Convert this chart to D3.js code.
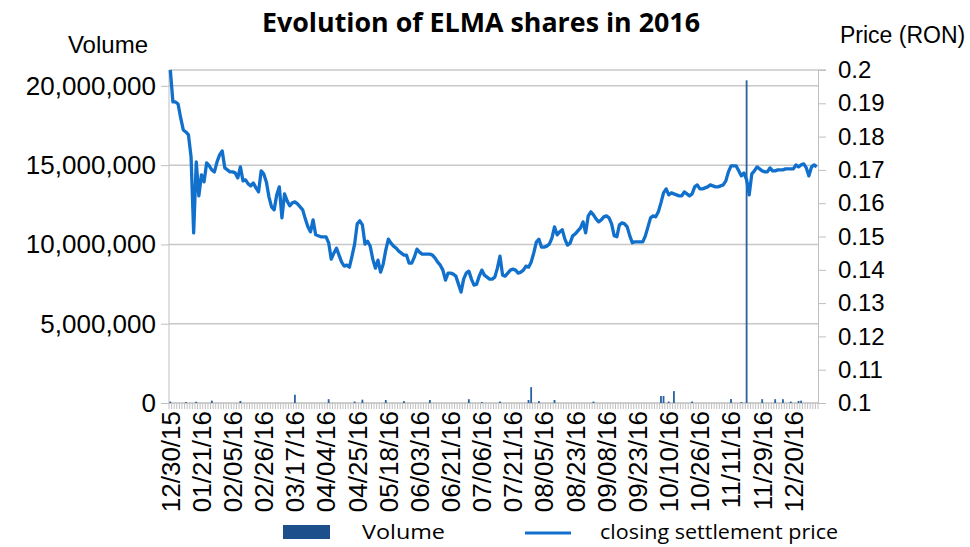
<!DOCTYPE html>
<html>
<head>
    <title>Evolution of ELMA shares in 2016</title>
    <script src="https://d3js.org/d3.v7.min.js"></script>
    <style>
        body { margin: 0; background: #fff; }
        .axis text { font-family: "Liberation Sans", Arial, sans-serif; fill: #000; }
        .axis path, .axis line { stroke: #bfbfbf; }
    </style>
</head>
<body>
    <svg id="chart" width="970" height="547"></svg>
    <script>
        // closing settlement price, one value per trading day
        var price = [
            0.2000, 0.1904, 0.1904, 0.1898, 0.1856, 0.1820, 0.1814, 0.1805, 0.1739, 0.1511,
            0.1724, 0.1622, 0.1685, 0.1664, 0.1721, 0.1712, 0.1700, 0.1694, 0.1724, 0.1745,
            0.1757, 0.1706, 0.1700, 0.1694, 0.1694, 0.1691, 0.1676, 0.1709, 0.1667, 0.1670,
            0.1658, 0.1652, 0.1661, 0.1646, 0.1634, 0.1697, 0.1688, 0.1664, 0.1619, 0.1589,
            0.1580, 0.1625, 0.1649, 0.1556, 0.1628, 0.1607, 0.1592, 0.1601, 0.1604, 0.1598,
            0.1589, 0.1580, 0.1553, 0.1529, 0.1514, 0.1550, 0.1505, 0.1502, 0.1499, 0.1499,
            0.1499, 0.1481, 0.1432, 0.1450, 0.1465, 0.1444, 0.1423, 0.1411, 0.1414, 0.1408,
            0.1441, 0.1477, 0.1538, 0.1547, 0.1535, 0.1477, 0.1486, 0.1471, 0.1432, 0.1405,
            0.1429, 0.1393, 0.1417, 0.1459, 0.1492, 0.1480, 0.1471, 0.1465, 0.1456, 0.1450,
            0.1444, 0.1444, 0.1420, 0.1420, 0.1438, 0.1462, 0.1453, 0.1447, 0.1447, 0.1447,
            0.1447, 0.1444, 0.1435, 0.1423, 0.1414, 0.1399, 0.1369, 0.1390, 0.1390, 0.1387,
            0.1381, 0.1357, 0.1333, 0.1372, 0.1390, 0.1396, 0.1372, 0.1354, 0.1357, 0.1381,
            0.1399, 0.1384, 0.1378, 0.1372, 0.1372, 0.1378, 0.1405, 0.1441, 0.1384, 0.1381,
            0.1390, 0.1399, 0.1402, 0.1399, 0.1390, 0.1393, 0.1399, 0.1411, 0.1408, 0.1423,
            0.1450, 0.1483, 0.1492, 0.1468, 0.1468, 0.1471, 0.1477, 0.1495, 0.1529, 0.1505,
            0.1514, 0.1520, 0.1492, 0.1474, 0.1480, 0.1502, 0.1508, 0.1517, 0.1526, 0.1544,
            0.1511, 0.1562, 0.1574, 0.1565, 0.1553, 0.1544, 0.1550, 0.1559, 0.1562, 0.1556,
            0.1538, 0.1502, 0.1499, 0.1535, 0.1541, 0.1538, 0.1529, 0.1502, 0.1481, 0.1484,
            0.1484, 0.1484, 0.1484, 0.1502, 0.1529, 0.1556, 0.1562, 0.1559, 0.1574, 0.1601,
            0.1631, 0.1643, 0.1625, 0.1631, 0.1628, 0.1625, 0.1622, 0.1622, 0.1634, 0.1628,
            0.1622, 0.1628, 0.1649, 0.1655, 0.1643, 0.1643, 0.1646, 0.1649, 0.1655, 0.1652,
            0.1649, 0.1649, 0.1652, 0.1655, 0.1667, 0.1694, 0.1712, 0.1712, 0.1712, 0.1697,
            0.1682, 0.1691, 0.1670, 0.1625, 0.1688, 0.1697, 0.1709, 0.1703, 0.1697, 0.1694,
            0.1694, 0.1706, 0.1697, 0.1697, 0.1700, 0.1700, 0.1700, 0.1703, 0.1703, 0.1703,
            0.1703, 0.1715, 0.1709, 0.1715, 0.1718, 0.1706, 0.1682, 0.1709, 0.1715, 0.1709
        ];

        // days with a visible volume bar (trading day index) and their volume
        var volumeDay = [0, 6, 10, 16, 27, 48, 61, 71, 74, 83, 90, 100, 115, 120, 127, 138, 139, 142,
            148, 163, 189, 190, 192, 194, 201, 216, 220, 222, 228, 233, 236, 239, 242, 243];
        var volume = [90000, 60000, 80000, 150000, 130000, 520000, 240000, 90000, 210000, 190000,
            120000, 190000, 240000, 60000, 90000, 190000, 1000000, 120000, 190000, 90000, 440000,
            440000, 90000, 750000, 90000, 250000, 60000, 20350000, 240000, 240000, 240000, 90000,
            130000, 150000];

        var dateLabels = ["12/30/15", "01/21/16", "02/05/16", "02/26/16", "03/17/16", "04/04/16",
            "04/25/16", "05/18/16", "06/03/16", "06/21/16", "07/06/16", "07/21/16", "08/05/16",
            "08/23/16", "09/08/16", "09/23/16", "10/10/16", "10/26/16", "11/11/16", "11/29/16", "12/20/16"];
        var labelStep = 12;

        var volumeTicks = [0, 5000000, 10000000, 15000000, 20000000];
        var priceTicks = [0.1, 0.11, 0.12, 0.13, 0.14, 0.15, 0.16, 0.17, 0.18, 0.19, 0.2];

        var plotLeft = 169, plotRight = 818, plotTop = 70, plotBottom = 403;
        var svg = d3.select("#chart");

        var x = d3.scaleBand()
            .domain(d3.range(price.length))
            .range([plotLeft, plotRight]);
        var yVol = d3.scaleLinear().domain([0, 21000000]).range([plotBottom, plotTop]);
        var yPrice = d3.scaleLinear().domain([0.1, 0.2]).range([plotBottom, plotTop]);

        // gridlines
        svg.append("g")
            .selectAll("line")
            .data(volumeTicks.slice(1))
            .enter()
            .append("line")
            .attr("x1", plotLeft).attr("x2", plotRight)
            .attr("y1", d => yVol(d)).attr("y2", d => yVol(d))
            .attr("stroke", "#c8c8c8").attr("stroke-width", 1.5);
        svg.append("line")
            .attr("x1", plotLeft).attr("x2", plotRight + 8)
            .attr("y1", yPrice(0.2)).attr("y2", yPrice(0.2))
            .attr("stroke", "#c8c8c8").attr("stroke-width", 1.5);

        // left axis (volume)
        var gLeft = svg.append("g")
            .attr("class", "axis")
            .attr("transform", "translate(" + plotLeft + ",0)")
            .call(d3.axisLeft(yVol).tickValues(volumeTicks).tickFormat(d3.format(",")).tickSize(8).tickPadding(5).tickSizeOuter(0));
        gLeft.selectAll("text").style("font-size", "26px");
        gLeft.select(".domain").attr("d", "M0," + plotTop + "V" + plotBottom);

        // right axis (price)
        var gRight = svg.append("g")
            .attr("class", "axis")
            .attr("transform", "translate(" + plotRight + ",0)")
            .call(d3.axisRight(yPrice).tickValues(priceTicks).tickFormat(d => +d.toFixed(2)).tickSize(8).tickPadding(12).tickSizeOuter(0));
        gRight.selectAll("text").style("font-size", "24px");

        // bottom axis: a tick per trading day, a label every labelStep days
        var gBottom = svg.append("g")
            .attr("class", "axis")
            .attr("transform", "translate(0," + plotBottom + ")");
        gBottom.append("line")
            .attr("x1", plotLeft).attr("x2", plotRight)
            .attr("stroke", "#bfbfbf").attr("stroke-width", 1.5);
        gBottom.selectAll("line.tick")
            .data(d3.range(price.length + 1))
            .enter()
            .append("line")
            .attr("class", "tick")
            .attr("x1", d => plotLeft + d * x.step()).attr("x2", d => plotLeft + d * x.step())
            .attr("y1", 0).attr("y2", 6)
            .attr("stroke", "#c4c4c4");
        gBottom.selectAll("text")
            .data(dateLabels)
            .enter()
            .append("text")
            .attr("transform", (d, i) => "translate(" + (x(i * labelStep) + x.bandwidth() / 2) + ",8) rotate(-90)")
            .attr("text-anchor", "end")
            .attr("dy", "0.36em")
            .style("font-size", "26px")
            .text(d => d);

        // volume bars
        svg.append("g")
            .selectAll("rect")
            .data(volumeDay)
            .enter()
            .append("rect")
            .attr("x", d => x(d) + x.bandwidth() * 0.15)
            .attr("width", x.bandwidth() * 0.7)
            .attr("y", (d, i) => yVol(volume[i]))
            .attr("height", (d, i) => plotBottom - yVol(volume[i]))
            .attr("fill", "#2a62a4");

        // price line
        var line = d3.line()
            .x((d, i) => x(i) + x.bandwidth() / 2)
            .y(d => yPrice(d));
        svg.append("path")
            .datum(price)
            .attr("d", line)
            .attr("fill", "none")
            .attr("stroke", "#1170cc")
            .attr("stroke-width", 3.3)
            .attr("stroke-linejoin", "round");

        // titles
        svg.append("text")
            .attr("x", 481).attr("y", 32)
            .attr("text-anchor", "middle")
            .attr("textLength", 438).attr("lengthAdjust", "spacingAndGlyphs")
            .style("font-family", "'Open Sans', sans-serif")
            .style("font-weight", "bold")
            .style("font-size", "27px")
            .text("Evolution of ELMA shares in 2016");
        svg.append("text")
            .attr("x", 148).attr("y", 53)
            .attr("text-anchor", "end")
            .style("font-family", "'Liberation Sans', Arial, sans-serif")
            .style("font-size", "24px")
            .text("Volume");
        svg.append("text")
            .attr("x", 840).attr("y", 43)
            .style("font-family", "'Liberation Sans', Arial, sans-serif")
            .style("font-size", "23px")
            .text("Price (RON)");

        // legend
        var legend = svg.append("g")
            .style("font-family", "'Open Sans', sans-serif")
            .style("font-size", "20px");
        legend.append("rect")
            .attr("x", 283).attr("y", 525).attr("width", 47).attr("height", 14)
            .attr("fill", "#1d4f8c");
        legend.append("text")
            .attr("x", 362).attr("y", 539)
            .attr("textLength", 83).attr("lengthAdjust", "spacingAndGlyphs")
            .text("Volume");
        legend.append("line")
            .attr("x1", 525).attr("x2", 571).attr("y1", 533).attr("y2", 533)
            .attr("stroke", "#1170cc").attr("stroke-width", 3);
        legend.append("text")
            .attr("x", 600).attr("y", 539)
            .attr("textLength", 238).attr("lengthAdjust", "spacingAndGlyphs")
            .text("closing settlement price");
    </script>
</body>
</html>
